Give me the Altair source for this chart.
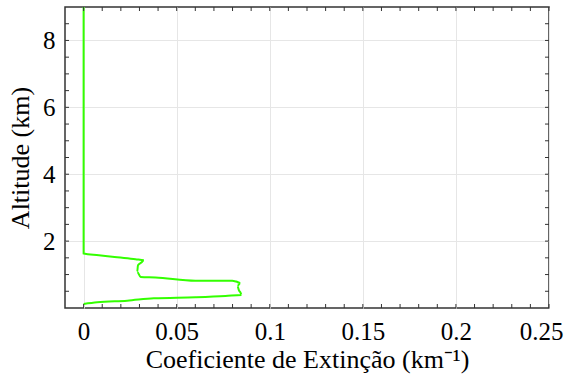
import altair as alt
import pandas as pd

# Extinction profile
extincao = [0.0, 0.0, 0.0082, 0.0154, 0.0279, 0.0324, 0.0310, 0.0292, 0.0288, 0.0306, 0.0386,
            0.0600, 0.0798, 0.0820, 0.0842, 0.0826, 0.0834, 0.0845, 0.0848, 0.0762,
            0.0601, 0.0377, 0.0234, 0.0073, 0.0]
altitude = [9.0, 1.63, 1.58, 1.53, 1.46, 1.43, 1.36, 1.28, 1.08, 0.93, 0.915,
            0.815, 0.815, 0.79, 0.746, 0.657, 0.537, 0.433, 0.39, 0.358,
            0.32, 0.29, 0.22, 0.17, 0.12]

x_labels = [0, 0.05, 0.1, 0.15, 0.2, 0.25]
y_labels = [2, 4, 6, 8]
x_minor = [round(i * 0.01, 2) for i in range(0, 26)]
y_minor = [i * 0.5 for i in range(1, 18)]

W, H = 484, 301
FONT = "Liberation Serif"
FRAME = "#333333"

df = pd.DataFrame({"ext": extincao, "alt": altitude, "ordem": list(range(len(extincao)))})

xs = alt.Scale(domain=[-0.01, 0.25], nice=False, zero=False)
ys = alt.Scale(domain=[0, 9], nice=False, zero=False)

line = alt.Chart(df).mark_line(color="#33ff00", strokeWidth=2, interpolate="monotone").encode(
    x=alt.X("ext:Q", scale=xs,
            axis=alt.Axis(values=x_labels, format="~g", title="Coeficiente de Extinção (km⁻¹)",
                          grid=True, gridColor="#e6e6e6", gridWidth=1,
                          ticks=False, domain=False, labelFont=FONT, labelFontSize=25,
                          labelColor="black", labelPadding=11, labelFlush=True,
                          labelFlushOffset=14,
                          titleFont=FONT, titleFontSize=26, titleFontWeight="normal",
                          titleColor="black", titlePadding=2)),
    y=alt.Y("alt:Q", scale=ys,
            axis=alt.Axis(values=y_labels, format="~g", title="Altitude (km)",
                          grid=True, gridColor="#e6e6e6", gridWidth=1,
                          ticks=False, domain=False, labelFont=FONT, labelFontSize=25,
                          labelColor="black", labelPadding=10,
                          titleFont=FONT, titleFontSize=26, titleFontWeight="normal",
                          titleColor="black", titlePadding=9)),
    order="ordem:Q",
)

xt = pd.DataFrame({"t": x_minor})
yt = pd.DataFrame({"t": y_minor})

tick_bottom = alt.Chart(xt).mark_rule(color=FRAME, strokeWidth=1).encode(
    x=alt.X("t:Q", scale=xs), y=alt.value(H), y2=alt.value(H - 4))
tick_top = alt.Chart(xt).mark_rule(color=FRAME, strokeWidth=1).encode(
    x=alt.X("t:Q", scale=xs), y=alt.value(0), y2=alt.value(4))
tick_left = alt.Chart(yt).mark_rule(color=FRAME, strokeWidth=1).encode(
    y=alt.Y("t:Q", scale=ys), x=alt.value(0), x2=alt.value(4))
tick_right = alt.Chart(yt).mark_rule(color=FRAME, strokeWidth=1).encode(
    y=alt.Y("t:Q", scale=ys), x=alt.value(W), x2=alt.value(W - 4))

chart = alt.layer(line, tick_bottom, tick_top, tick_left, tick_right).properties(
    width=W, height=H,
    autosize=alt.AutoSizeParams(type="none"),
    padding={"left": 65, "top": 7, "right": 22, "bottom": 70},
    background="white",
).configure_view(stroke=FRAME, strokeWidth=1.5)

chart.save("out.html", embed_options={"renderer": "svg", "actions": False})
